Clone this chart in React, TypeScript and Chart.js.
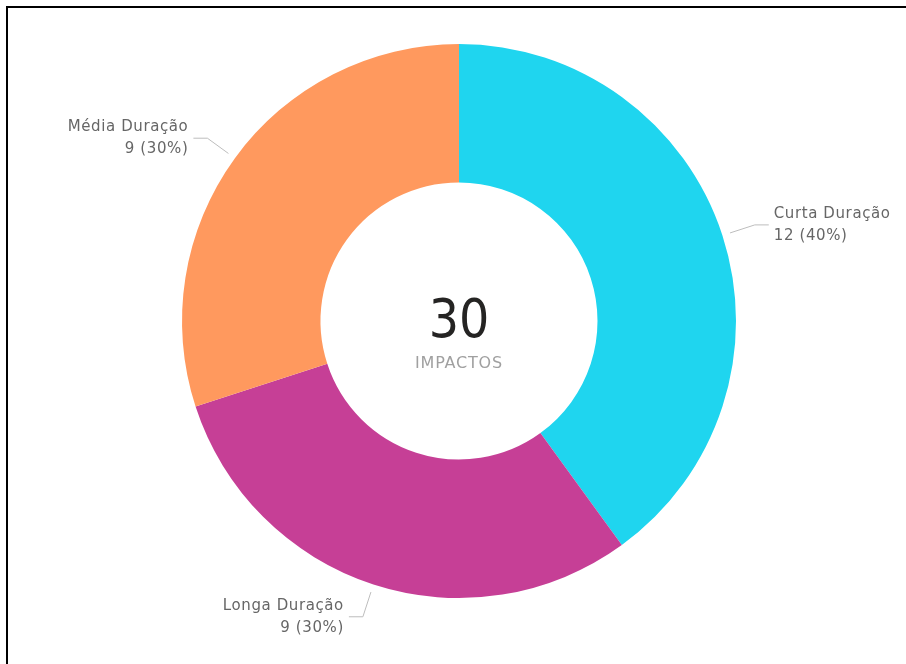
import React, { useEffect, useRef } from "react";
import { Chart, registerables } from "chart.js";

Chart.register(...registerables);

const categories = ["Curta Duração", "Longa Duração", "Média Duração"];
const values = [12, 9, 9];
const colors = ["#1FD5EF", "#C63F96", "#FF995E"];
const totalLabel = "IMPACTOS";

const FONT = "'DejaVu Sans', sans-serif";
const NUMFONT = "'DejaVu Sans Condensed', 'DejaVu Sans', sans-serif";

const labelPlugin = {
  id: "donutLabels",
  afterDatasetsDraw(chart: any) {
    const ctx = chart.ctx;
    const meta = chart.getDatasetMeta(0);
    const ds = chart.data.datasets[0].data as number[];
    const total = ds.reduce((a, b) => a + b, 0);
    ctx.save();
    meta.data.forEach((arc: any, i: number) => {
      const { x, y, startAngle, endAngle, outerRadius } = arc.getProps(
        ["x", "y", "startAngle", "endAngle", "outerRadius"],
        true
      );
      const mid = (startAngle + endAngle) / 2;
      const c = Math.cos(mid);
      const s = Math.sin(mid);
      const p1x = x + (outerRadius + 8) * c;
      const p1y = y + (outerRadius + 8) * s;
      const p2x = x + (outerRadius + 34) * c;
      const p2y = y + (outerRadius + 34) * s;
      const right = c >= 0;
      const p3x = p2x + (right ? 14 : -14);
      ctx.strokeStyle = "#BDBDBD";
      ctx.lineWidth = 1;
      ctx.beginPath();
      ctx.moveTo(p1x, p1y);
      ctx.lineTo(p2x, p2y);
      ctx.lineTo(p3x, p2y);
      ctx.stroke();
      ctx.fillStyle = "#666666";
      ctx.font = `15px ${FONT}`;
      ctx.letterSpacing = "0.6px";
      ctx.textAlign = right ? "left" : "right";
      ctx.textBaseline = "middle";
      const tx = p3x + (right ? 5 : -5);
      const pct = Math.round((ds[i] / total) * 100);
      ctx.fillText(chart.data.labels[i], tx, p2y - 11);
      ctx.fillText(`${ds[i]} (${pct}%)`, tx, p2y + 11);
    });
    // center text
    const arc0 = meta.data[0];
    const cx = arc0.x;
    const cy = arc0.y;
    ctx.textAlign = "center";
    ctx.textBaseline = "alphabetic";
    ctx.letterSpacing = "0px";
    ctx.fillStyle = "#252423";
    ctx.font = `53px ${NUMFONT}`;
    ctx.fillText(String(total), cx, cy + 16);
    ctx.fillStyle = "#A0A0A0";
    ctx.font = `16px ${FONT}`;
    ctx.letterSpacing = "0.8px";
    ctx.fillText(totalLabel, cx, cy + 47);
    ctx.restore();
  },
};

export default function App() {
  const ref = useRef<HTMLCanvasElement>(null);
  useEffect(() => {
    document.body.style.margin = "0";
    const chart = new Chart(ref.current!, {
      type: "doughnut",
      data: {
        labels: categories,
        datasets: [
          {
            data: values,
            backgroundColor: colors,
            borderWidth: 0,
          },
        ],
      },
      options: {
        animation: false,
        responsive: false,
        cutout: "50%",
        layout: { padding: { top: 44, bottom: 66, left: 182, right: 170 } },
        plugins: { legend: { display: false }, tooltip: { enabled: false } },
      },
      plugins: [labelPlugin],
    });
    return () => chart.destroy();
  }, []);
  return (
    <div style={{ position: "fixed", left: 0, top: 0, width: 906, height: 664, background: "#fff" }}>
      <div
        style={{
          position: "absolute",
          left: 6,
          top: 6,
          right: 0,
          bottom: 0,
          borderTop: "2px solid #000",
          borderLeft: "2px solid #000",
        }}
      />
      <canvas ref={ref} width={906} height={664} style={{ position: "absolute", left: 0, top: 0 }} />
    </div>
  );
}
